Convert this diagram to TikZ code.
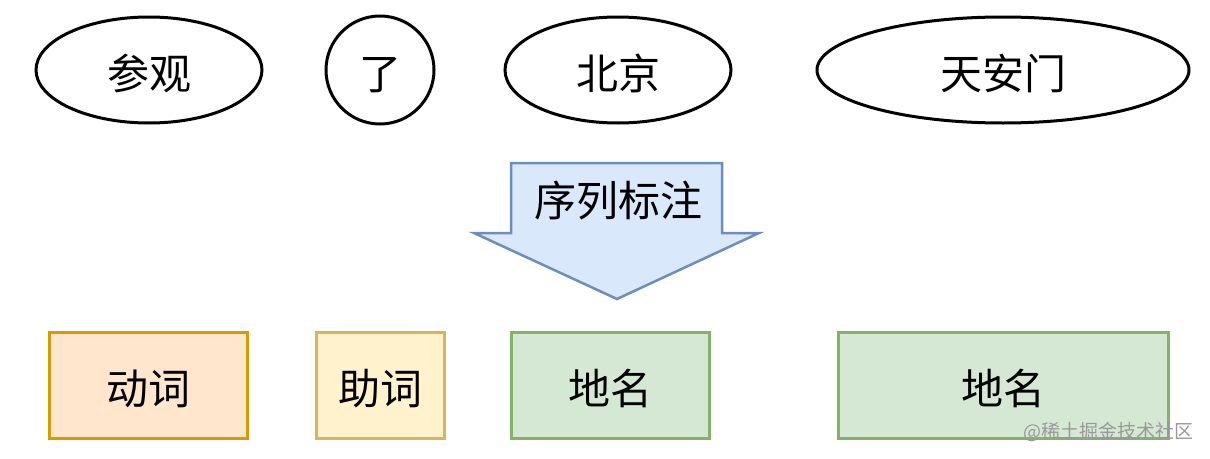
\documentclass[tikz,border=0pt]{standalone}
\usepackage{fontspec}
\setmainfont{Noto Sans CJK SC}
\usetikzlibrary{shapes.geometric}
\definecolor{orfill}{HTML}{FFE6CC}\definecolor{ordraw}{HTML}{D79B00}
\definecolor{yefill}{HTML}{FFF2CC}\definecolor{yedraw}{HTML}{D6B656}
\definecolor{grfill}{HTML}{D5E8D4}\definecolor{grdraw}{HTML}{82B366}
\definecolor{blfill}{HTML}{DAE8FC}\definecolor{bldraw}{HTML}{6C8EBF}
\tikzset{
  bigtext/.style={font=\fontsize{42}{48}\selectfont, text height=40pt, text depth=2pt},
  word/.style={ellipse, draw=black, line width=3pt, inner sep=0pt, bigtext},
  tagbox/.style={rectangle, line width=3pt, inner sep=0pt, minimum height=106pt, bigtext},
}
\begin{document}
\begin{tikzpicture}[x=1pt,y=-1pt]
\useasboundingbox (0,0) rectangle (1210,458);
% words
\node[word, minimum width=226pt, minimum height=106pt] (w1) at (149,70) {参观};
\node[word, minimum width=108pt, minimum height=108pt] (w2) at (380,70) {了};
\node[word, minimum width=226pt, minimum height=106pt] (w3) at (618,70) {北京};
\node[word, minimum width=372pt, minimum height=106pt] (w4) at (1003,70) {天安门};
% arrow
\coordinate (a1) at (511,163);
\coordinate (a2) at (722,163);
\coordinate (a3) at (722,233);
\coordinate (a4) at (759,233);
\coordinate (tip) at (617,299);
\coordinate (a6) at (474,233);
\coordinate (a7) at (511,233);
\draw[fill=blfill, draw=bldraw, line width=2.5pt, line join=miter]
  (a1) -- (a2) -- (a3) -- (a4) -- (tip) -- (a6) -- (a7) -- cycle;
\node[bigtext] (lab) at (618,197) {序列标注};
% tags
\node[tagbox, fill=orfill, draw=ordraw, minimum width=198pt] (t1) at (148.5,385) {动词};
\node[tagbox, fill=yefill, draw=yedraw, minimum width=128pt] (t2) at (380,385) {助词};
\node[tagbox, fill=grfill, draw=grdraw, minimum width=198pt] (t3) at (610.5,385) {地名};
\node[tagbox, fill=grfill, draw=grdraw, minimum width=330pt] (t4) at (1003,385) {地名};
% watermark
\node[text=black!40, font=\fontsize{19}{22}\selectfont, anchor=east] (wm) at (1197,432) {@稀土掘金技术社区};
\end{tikzpicture}
\end{document}
